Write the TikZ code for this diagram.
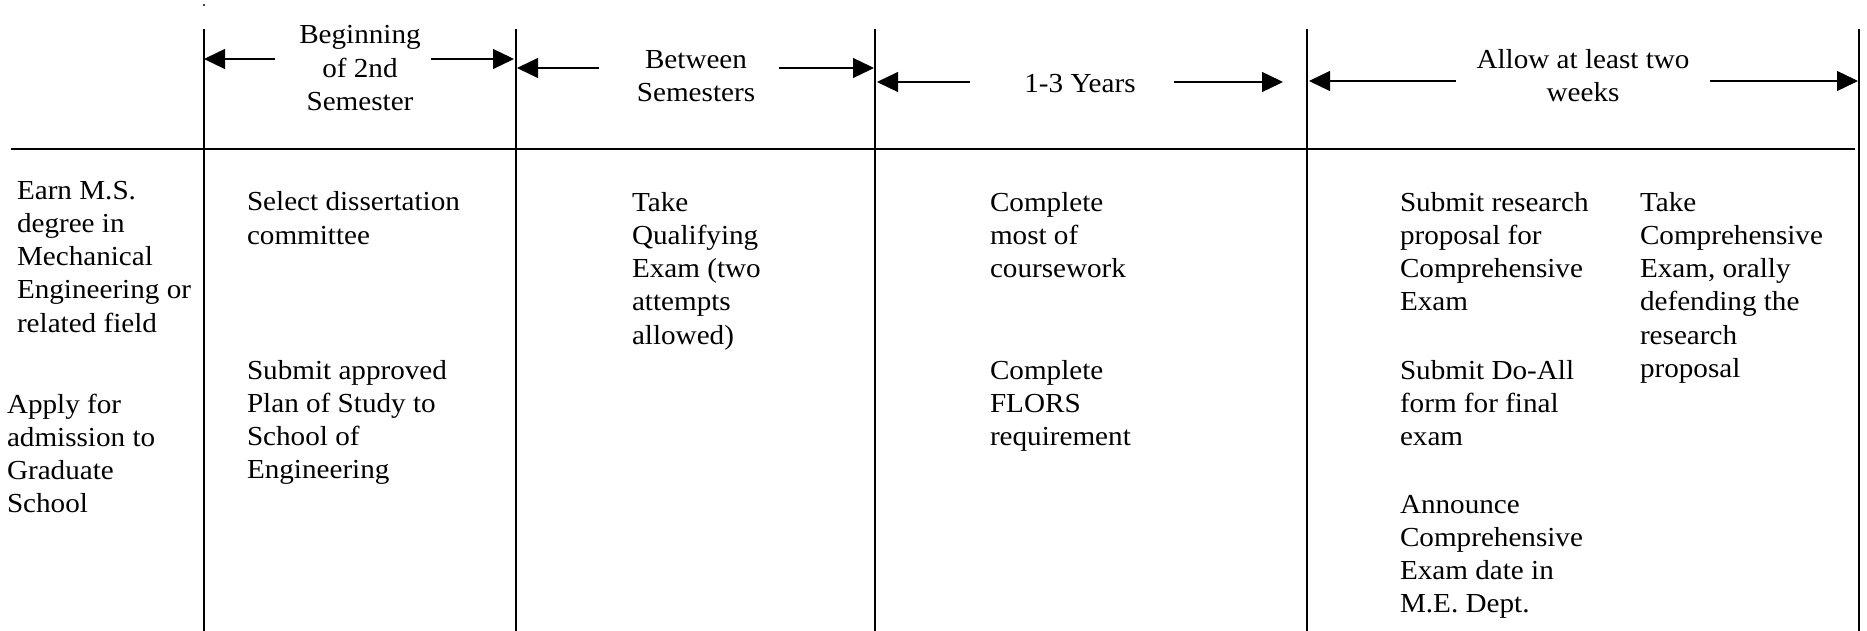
\documentclass[tikz,border=0pt]{standalone}
\usepackage{fontspec}
\setmainfont{Liberation Serif}[FakeStretch=1.06]
\usetikzlibrary{arrows.meta}
\newcommand{\bodyfnt}{\fontsize{27.5}{33.3}\selectfont}
\newcommand{\bl}{23.31}
\begin{document}
\begin{tikzpicture}[x=1pt,y=-1pt,
  txt/.style={anchor=north west, inner sep=0pt, outer sep=0pt, align=left, font=\bodyfnt},
  hdr/.style={anchor=north, inner sep=0pt, outer sep=0pt, align=center, font=\bodyfnt},
  rule/.style={line width=1.8pt},
  span/.style={line width=1.3pt, -{Triangle[length=21pt,width=20pt]}}]
\useasboundingbox (0,0) rectangle (1867,631);

% small dot
\fill (204,5) circle (1.1pt);

% grid lines
\draw[rule] (11,149) -- (1855,149);
\foreach \xx in {204,516,875,1307,1859}{
  \draw[rule] (\xx,29) -- (\xx,631);
}

% headers
\node[hdr] (h1) at (360,{44-\bl}) {\strut Beginning\\of 2nd\\Semester};
\node[hdr] (h2) at (696,{68.5-\bl}) {\strut Between\\Semesters};
\node[hdr] (h3) at (1080,{93-\bl}) {\strut 1-3 Years};
\node[hdr] (h4) at (1583,{68.5-\bl}) {\strut Allow at least two\\weeks};

% span arrows
\draw[span] (275,59) -- (204,59);
\draw[span] (431,59) -- (514,59);
\draw[span] (599,68) -- (517,68);
\draw[span] (779,68) -- (874,68);
\draw[span] (970,82) -- (877,82);
\draw[span] (1174,82) -- (1283,82);
\draw[span] (1456,81) -- (1309,81);
\draw[span] (1710,81) -- (1858,81);

% column texts
\node[txt] (a1) at (17,{199-\bl}) {\strut Earn M.S.\\degree in\\Mechanical\\Engineering or\\related field};
\node[txt] (a2) at (7,{413-\bl}) {\strut Apply for\\admission to\\Graduate\\School};

\node[txt] (b1) at (247,{211-\bl}) {\strut Select dissertation\\committee};
\node[txt] (b2) at (247,{379-\bl}) {\strut Submit approved\\Plan of Study to\\School of\\Engineering};

\node[txt] (c1) at (632,{211-\bl}) {\strut Take\\Qualifying\\Exam (two\\attempts\\allowed)};

\node[txt] (d1) at (990,{211-\bl}) {\strut Complete\\most of\\coursework};
\node[txt] (d2) at (990,{379-\bl}) {\strut Complete\\FLORS\\requirement};

\node[txt] (e1) at (1400,{211-\bl}) {\strut Submit research\\proposal for\\Comprehensive\\Exam};
\node[txt] (e2) at (1400,{379-\bl}) {\strut Submit Do-All\\form for final\\exam};
\node[txt] (e3) at (1400,{513-\bl}) {\strut Announce\\Comprehensive\\Exam date in\\M.E. Dept.};
\node[txt] (f1) at (1640,{211-\bl}) {\strut Take\\Comprehensive\\Exam, orally\\defending the\\research\\proposal};
\end{tikzpicture}
\end{document}
